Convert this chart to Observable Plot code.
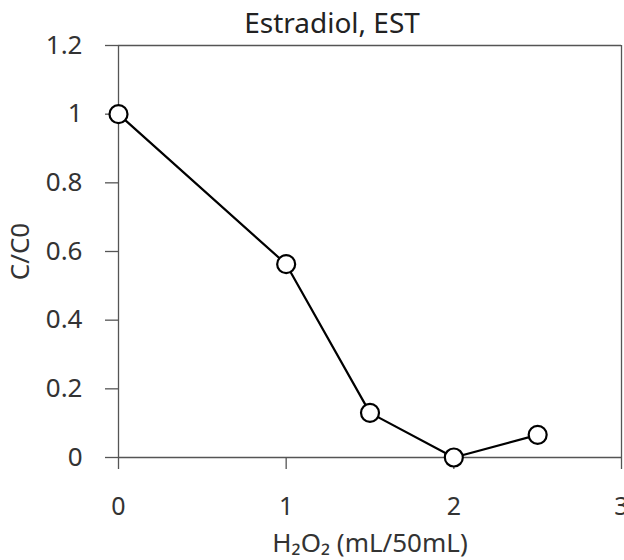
<!DOCTYPE html>
<html>
<head>
<meta charset="utf-8">
<script src="https://cdn.jsdelivr.net/npm/d3@7"></script>
<script src="https://cdn.jsdelivr.net/npm/@observablehq/plot@0.6"></script>
<style>
  body { margin: 0; background: white; overflow: hidden; }
</style>
</head>
<body>
<div id="chart"></div>
<script>
const title = "Estradiol, EST";
const xLabel = "H₂O₂ (mL/50mL)";
const yLabel = "C/C0";
const doses = [0, 1, 1.5, 2, 2.5];
const ratio = [1.0, 0.563, 0.13, 0.0, 0.066];
const xTicks = [0, 1, 2, 3];
const yTicks = [0, 0.2, 0.4, 0.6, 0.8, 1.0, 1.2];

const data = doses.map((d, i) => ({dose: d, ratio: ratio[i]}));
const axisColor = "#555";
const font = 26;
const fmt = d3.format("~g");

const chart = Plot.plot({
  width: 624,
  height: 560,
  marginTop: 45,
  marginBottom: 103,
  marginLeft: 118,
  marginRight: 3,
  style: {fontFamily: "'Noto Sans', sans-serif", fontSize: font + "px", color: "#333", background: "white", overflow: "visible"},
  x: {domain: [0, 3]},
  y: {domain: [0, 1.2]},
  marks: [
    Plot.ruleY([1.2], {stroke: axisColor, strokeWidth: 1.3}),
    Plot.ruleX([3], {stroke: axisColor, strokeWidth: 1.3}),
    Plot.ruleY([0], {stroke: axisColor, strokeWidth: 1.3}),
    Plot.ruleX([0], {stroke: axisColor, strokeWidth: 1.3}),
    Plot.axisY({ticks: yTicks, tickFormat: fmt, tickSize: 13, tickPadding: 23, fontSize: font, stroke: axisColor, strokeWidth: 1.3, label: null}),
    Plot.axisX({ticks: xTicks, tickFormat: fmt, tickSize: 12, tickPadding: 28, fontSize: 25, stroke: axisColor, strokeWidth: 1.3, label: null}),
    Plot.line(data, {x: "dose", y: "ratio", stroke: "black", strokeWidth: 2.2}),
    Plot.dot(data, {x: "dose", y: "ratio", r: 9, fill: "white", stroke: "black", strokeWidth: 2.2}),
    Plot.text([title], {frameAnchor: "top", dx: -38, dy: -21, fontSize: 28, fill: "#222", lineAnchor: "middle"}),
    Plot.text([yLabel], {frameAnchor: "left", dx: -98, rotate: -90, fontSize: font, textAnchor: "middle", lineAnchor: "middle"}),
    Plot.text([xLabel], {frameAnchor: "bottom", dy: 86, fontSize: 26, textAnchor: "middle", lineAnchor: "middle"})
  ]
});
document.getElementById("chart").append(chart);
</script>
</body>
</html>
